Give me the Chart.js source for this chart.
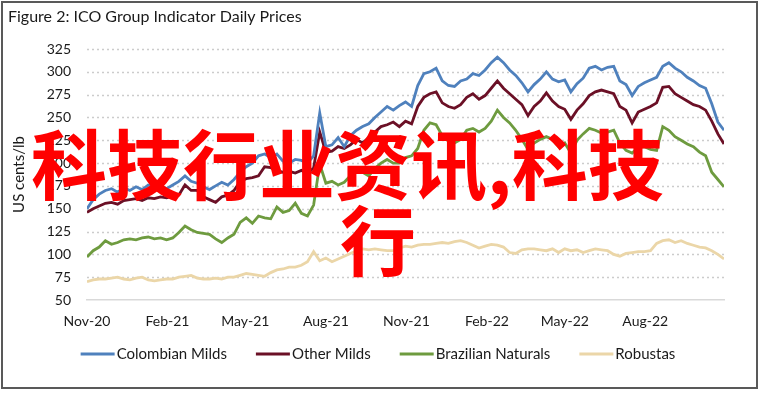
<!DOCTYPE html>
<html><head><meta charset="utf-8">
<script src="https://cdn.jsdelivr.net/npm/chart.js@4"></script>
<style>
html,body{margin:0;padding:0;background:#fff;}
#wrap{position:relative;width:759px;height:393px;}
canvas{position:absolute;left:0;top:0;}
.wm{position:absolute;color:#ff0000;font-family:"Noto Sans CJK SC","Noto Sans CJK JP",sans-serif;font-weight:700;font-size:76px;line-height:76px;white-space:nowrap;}
</style></head>
<body>
<div id="wrap">
<canvas id="c" width="759" height="393"></canvas>
<div class="wm" style="left:31px;top:123px;">科技行业资讯,科技</div>
<div class="wm" style="left:340px;top:199px;">行</div>
</div>
<script>
const chartTitle = "Figure 2: ICO Group Indicator Daily Prices";
const yAxisTitle = "US cents/lb";
const seriesNames = ["Colombian Milds", "Other Milds", "Brazilian Naturals", "Robustas"];
const tickLabels = ["Nov-20","Feb-21","May-21","Aug-21","Nov-21","Feb-22","May-22","Aug-22"];
const tickDates = ["2020-11-01","2021-02-01","2021-05-01","2021-08-01","2021-11-01","2022-02-01","2022-05-01","2022-08-01"];
const startDate = "2020-11-01";
const stepDays = 7;

const colombianMilds = [150,160,166,170,172,168,173,170,174,171,176,174,175,172,176,180,186,180,178,174,171,175,179,176,182,190,196,200,208,210,206,210,202,200,204,203,200,208,255,218,220,228,218,230,236,240,243,250,256,262,258,263,267,262,285,298,300,304,290,285,284,290,292,298,296,302,310,316,310,302,296,288,278,286,292,300,292,289,291,278,287,293,304,306,302,305,306,290,286,274,284,288,291,294,306,310,304,300,294,290,285,282,265,245,236];
const otherMilds = [146,150,153,156,157,155,159,160,161,159,162,161,163,162,164,165,176,170,170,163,160,157,163,165,170,180,183,184,186,196,195,192,190,191,189,192,188,195,234,212,213,218,216,220,226,222,228,234,240,242,245,240,246,243,262,272,276,278,266,262,260,264,272,276,270,274,282,290,282,276,270,264,252,262,268,277,268,262,259,248,258,265,274,278,280,278,276,262,258,244,256,259,262,266,283,284,276,272,268,264,262,258,246,232,221];
const brazilianNaturals = [97,104,108,115,111,113,116,117,116,118,119,117,118,116,118,124,131,127,124,123,122,117,113,118,122,135,140,134,142,140,139,152,146,148,156,145,142,154,199,178,180,176,179,186,192,190,186,194,200,204,200,200,206,208,216,236,244,242,230,224,222,226,236,238,234,238,246,258,250,244,236,226,215,222,226,229,226,218,222,211,225,232,238,236,233,234,236,222,214,211,217,218,215,214,240,236,229,225,221,218,212,208,190,182,174];
const robustas = [70,72,73,73,74,75,73,72,74,75,72,71,72,73,73,75,76,77,74,73,73,74,73,75,75,77,79,78,77,76,80,83,84,86,86,88,92,103,93,96,92,95,98,101,104,106,105,106,105,104,104,107,109,108,110,111,111,112,113,112,114,115,113,110,107,109,111,110,108,102,101,105,106,106,105,104,106,102,106,104,105,102,104,106,105,104,100,98,101,102,103,103,104,112,115,116,113,115,112,110,108,107,104,100,95];

const colors = ["#4f81bd", "#6b1026", "#6e9b3f", "#ebd6a8"];
const FONT = "Lato, 'Open Sans', sans-serif";
const DAY = 86400000;
const t0 = Date.parse(startDate);
const toDay = s => Math.round((Date.parse(s) - t0) / DAY);
const tickValues = tickDates.map(toDay);
const allSeries = [colombianMilds, otherMilds, brazilianNaturals, robustas];
const xDays = colombianMilds.map((_, i) => i * stepDays);

const datasets = allSeries.map((vals, k) => ({
  label: seriesNames[k],
  data: vals.map((v, i) => ({x: xDays[i], y: v})),
  borderColor: colors[k],
  backgroundColor: colors[k],
  borderWidth: 2.8,
  pointRadius: 0,
  tension: 0,
  order: k
}));

const decor = {
  id: 'decor',
  beforeDatasetsDraw(chart) {
    // dotted horizontal gridlines
    const ctx = chart.ctx, ys = chart.scales.y, a = chart.chartArea;
    ctx.save();
    ctx.strokeStyle = "#cccccc";
    ctx.lineWidth = 1.5;
    ctx.setLineDash([2, 3]);
    ys.ticks.forEach(t => {
      if (t.value === ys.min) return;
      const y = Math.round(ys.getPixelForValue(t.value)) + 0.5;
      ctx.beginPath();
      ctx.moveTo(a.left, y);
      ctx.lineTo(a.right, y);
      ctx.stroke();
    });
    ctx.restore();
  },
  afterDraw(chart) {
    const ctx = chart.ctx;
    ctx.save();
    // border
    ctx.strokeStyle = "#595959";
    ctx.lineWidth = 2;
    ctx.strokeRect(2, 2, 755, 386);
    // title
    ctx.fillStyle = "#1a1a1a";
    ctx.font = "16px " + FONT;
    ctx.textBaseline = "middle";
    ctx.textAlign = "left";
    ctx.fillText(chartTitle, 8, 17);
    // legend
    ctx.font = "15px " + FONT;
    const lineW = 34, gap = 2, itemGap = 29;
    const widths = seriesNames.map(n => ctx.measureText(n).width);
    const total = widths.reduce((a, w) => a + lineW + gap + w, 0) + itemGap * (seriesNames.length - 1);
    let x = 378 - total / 2;
    const y = 354;
    seriesNames.forEach((n, k) => {
      ctx.strokeStyle = colors[k];
      ctx.lineWidth = 3;
      ctx.beginPath();
      ctx.moveTo(x, y);
      ctx.lineTo(x + lineW, y);
      ctx.stroke();
      ctx.fillStyle = "#1a1a1a";
      ctx.fillText(n, x + lineW + gap, y);
      x += lineW + gap + widths[k] + itemGap;
    });
    ctx.restore();
  }
};

new Chart(document.getElementById('c'), {
  type: 'line',
  data: { datasets },
  options: {
    responsive: false,
    animation: false,
    layout: { padding: { left: 8, right: 35, top: 49, bottom: 63 } },
    plugins: { legend: { display: false }, title: { display: false }, tooltip: { enabled: false } },
    scales: {
      x: {
        type: 'linear',
        min: 0,
        max: 728,
        afterBuildTicks: s => { s.ticks = tickValues.map(v => ({value: v})); },
        afterFit: s => { s.height = 30; },
        ticks: {
          autoSkip: false,
          maxRotation: 0,
          padding: 13,
          color: "#1a1a1a",
          font: { family: FONT, size: 14 },
          callback: (v) => { const i = tickValues.indexOf(v); return i >= 0 ? tickLabels[i] : ''; }
        },
        grid: { display: false, drawTicks: false },
        border: { display: true, color: "#d9d9d9", width: 1.5 }
      },
      y: {
        min: 50,
        max: 325,
        afterFit: s => { s.width = 79; },
        ticks: {
          stepSize: 25,
          padding: 16,
          color: "#1a1a1a",
          font: { family: FONT, size: 14 }
        },
        grid: { display: false, drawTicks: false },
        border: { display: false },
        title: { display: true, text: yAxisTitle, color: "#1a1a1a", font: { family: FONT, size: 15 }, padding: { top: 2, bottom: 0 } }
      }
    }
  },
  plugins: [decor]
});
</script>
</body></html>
